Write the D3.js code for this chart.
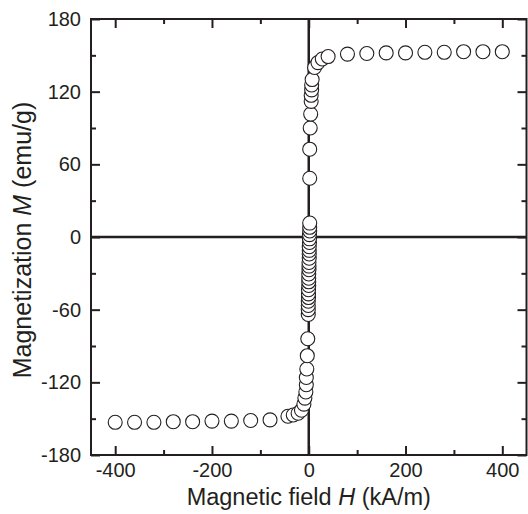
<!DOCTYPE html>
<html>
<head>
<meta charset="utf-8">
<script src="https://cdn.jsdelivr.net/npm/d3@7"></script>
<style>
  html, body { margin: 0; padding: 0; background: #fff; }
  svg { display: block; }
  text { font-family: "Liberation Sans", Arial, Helvetica, sans-serif; fill: #231f20; }
</style>
</head>
<body>
<svg id="chart" width="528" height="514"></svg>
<script>
// Magnetization curve: field H (kA/m) and magnetization M (emu/g), up-sweep order
const fieldH = [
  -400, -360, -320, -280, -240, -200, -160, -120, -80,
  -43, -32, -22, -15, -10, -8, -6, -5, -5, -4, -3, -2,
  -1, -1, -1, -1, -0.5, -0.5, -0.5, 0, 0, 0, 0, 0.5, 0.5, 0.5, 1, 1, 1, 1, 1.5, 1.5, 1.5, 2, 2, 2,
  2, 2, 3, 4, 5, 5, 6, 6, 7,
  12, 19, 28, 40,
  80, 120, 160, 200, 240, 280, 320, 360, 400
];
const magM = [
  -153, -153, -153, -152.5, -152.5, -152, -152, -151.5, -151,
  -148, -147, -145.5, -143, -138, -133, -128, -122, -116, -109, -98, -84,
  -64, -60, -56.5, -53, -50, -47, -43.5, -40, -37, -34, -30.5, -27, -24, -21, -17.5, -14, -11, -8, -4.5, -1.5, 2, 5, 8, 11.5,
  48.5, 72.5, 90, 101.5, 112, 117, 121.5, 125.5, 130,
  140, 144, 147, 149,
  151, 151.5, 152, 152, 152.5, 152.5, 153, 153, 153
];

const xMajor = [-400, -200, 0, 200, 400];
const xMinor = [-300, -100, 100, 300];
const yMajor = [-180, -120, -60, 0, 60, 120, 180];
const yMinor = [-150, -90, -30, 30, 90, 150];

const xLabel = "Magnetic field ";
const xSym = "H";
const xUnit = " (kA/m)";
const yLabel = "Magnetization ";
const ySym = "M";
const yUnit = " (emu/g)";

const svg = d3.select("#chart");
const plotL = 91, plotR = 526.5, plotT = 19, plotB = 455;

const x = d3.scaleLinear().domain([-450, 450]).range([plotL, plotR]);
const y = d3.scaleLinear().domain([-180, 180]).range([plotB, plotT]);

const ink = "#231f20";
const fmt = d => String(d); // plain hyphen for negatives

// zero lines
svg.append("line")
  .attr("x1", plotL).attr("x2", plotR)
  .attr("y1", y(0)).attr("y2", y(0))
  .attr("stroke", ink).attr("stroke-width", 2.5);
svg.append("line")
  .attr("x1", x(0)).attr("x2", x(0))
  .attr("y1", plotT).attr("y2", plotB)
  .attr("stroke", ink).attr("stroke-width", 2.5);

function styleAxis(g) {
  g.select(".domain").remove();
  g.selectAll(".tick line").attr("stroke", ink).attr("stroke-width", 2);
  g.selectAll(".tick text").attr("font-size", 20).attr("fill", ink)
    .style("font-family", '"Liberation Sans", Arial, Helvetica, sans-serif');
}

// bottom axis with labels + minor ticks
svg.append("g").attr("transform", `translate(0,${plotB})`)
  .call(d3.axisBottom(x).tickValues(xMajor).tickSize(-9).tickPadding(8).tickFormat(fmt))
  .call(styleAxis);
svg.append("g").attr("transform", `translate(0,${plotB})`)
  .call(d3.axisBottom(x).tickValues(xMinor).tickSize(-5).tickFormat(""))
  .call(styleAxis);
// top axis mirrored
svg.append("g").attr("transform", `translate(0,${plotT})`)
  .call(d3.axisTop(x).tickValues(xMajor).tickSize(-9).tickFormat(""))
  .call(styleAxis);
svg.append("g").attr("transform", `translate(0,${plotT})`)
  .call(d3.axisTop(x).tickValues(xMinor).tickSize(-5).tickFormat(""))
  .call(styleAxis);

// left axis with labels + minor ticks
svg.append("g").attr("transform", `translate(${plotL},0)`)
  .call(d3.axisLeft(y).tickValues(yMajor).tickSize(-9).tickPadding(10).tickFormat(fmt))
  .call(styleAxis);
svg.append("g").attr("transform", `translate(${plotL},0)`)
  .call(d3.axisLeft(y).tickValues(yMinor).tickSize(-5).tickFormat(""))
  .call(styleAxis);
// right axis mirrored
svg.append("g").attr("transform", `translate(${plotR},0)`)
  .call(d3.axisRight(y).tickValues(yMajor).tickSize(-9).tickFormat(""))
  .call(styleAxis);
svg.append("g").attr("transform", `translate(${plotR},0)`)
  .call(d3.axisRight(y).tickValues(yMinor).tickSize(-5).tickFormat(""))
  .call(styleAxis);

// frame
svg.append("rect")
  .attr("x", plotL).attr("y", plotT)
  .attr("width", plotR - plotL).attr("height", plotB - plotT)
  .attr("fill", "none").attr("stroke", ink).attr("stroke-width", 2);

// data points
const pts = fieldH.map((h, i) => ({ h, m: magM[i] }));
svg.append("g").selectAll("circle").data(pts).join("circle")
  .attr("cx", d => x(d.h)).attr("cy", d => y(d.m))
  .attr("r", 7)
  .attr("fill", "#fff").attr("stroke", ink).attr("stroke-width", 1.1);

// axis titles
const xt = svg.append("text")
  .attr("x", (plotL + plotR) / 2).attr("y", 505)
  .attr("text-anchor", "middle").attr("font-size", 23.5);
xt.append("tspan").text(xLabel);
xt.append("tspan").attr("font-style", "italic").text(xSym);
xt.append("tspan").text(xUnit);

const yt = svg.append("text")
  .attr("transform", `translate(31,${(plotT + plotB) / 2 + 3}) rotate(-90)`)
  .attr("text-anchor", "middle").attr("font-size", 25);
yt.append("tspan").text(yLabel);
yt.append("tspan").attr("font-style", "italic").text(ySym);
yt.append("tspan").text(yUnit);
</script>
</body>
</html>
